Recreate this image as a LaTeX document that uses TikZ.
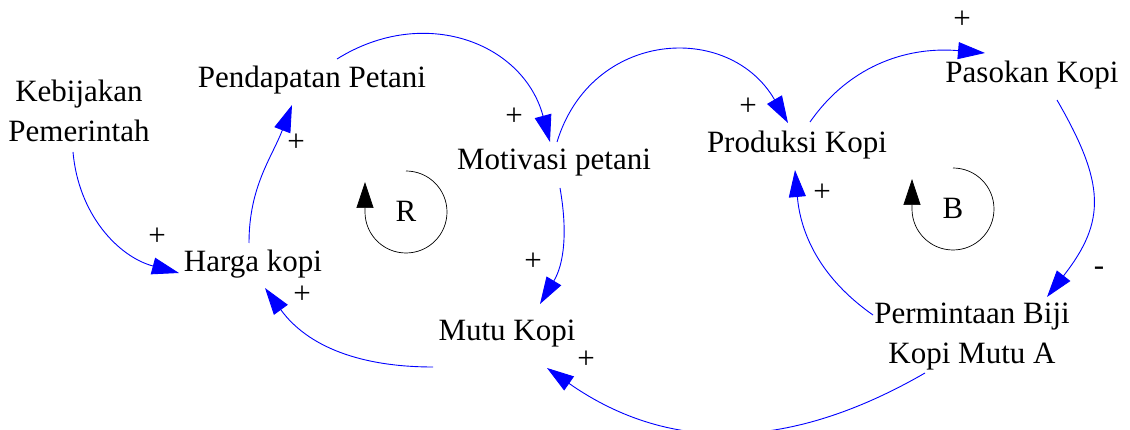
\documentclass[tikz,border=0pt]{standalone}
\usepackage{fontspec}
\setmainfont{Liberation Serif}
\usetikzlibrary{arrows.meta}

\begin{document}
\begin{tikzpicture}[x=1pt, y=1pt,
      font=\fontsize{31}{40}\selectfont,
      variabel/.style={inner sep=1pt, align=center},
      tanda/.style={inner sep=0pt},
      panah/.style={-{Triangle[length=27pt,width=17pt]}, blue, line width=0.9pt},
      putar/.style={-{Triangle[length=26pt,width=17pt]}, black, line width=0.7pt}]
    \clip (0,0) rectangle (1130,-430);
    % variabel
    \node[variabel] (kb) at (79,-111) {Kebijakan\\Pemerintah};
    \node[variabel] (pp) at (312,-80) {Pendapatan Petani};
    \node[variabel] (hk) at (253,-264) {Harga kopi};
    \node[variabel] (mp) at (554,-163) {Motivasi petani};
    \node[variabel] (mk) at (507,-334) {Mutu Kopi};
    \node[variabel] (pk) at (797,-145) {Produksi Kopi};
    \node[variabel] (ps) at (1032,-75) {Pasokan Kopi};
    \node[variabel] (pb) at (972,-337) {Permintaan Biji\\Kopi Mutu A};
    % loop
    \node[tanda] (lr) at (406,-211) {R};
    \node[tanda] (lb) at (953,-208) {B};
    \draw[putar] ([yshift=40pt]lr.center) arc[start angle=90,end angle=-180,radius=41] -- ++(0,30);
    \draw[putar] ([yshift=40pt]lb.center) arc[start angle=90,end angle=-180,radius=41] -- ++(0,30);
    % panah
    \draw[panah] ([shift={(-6,-41)}]kb.center) to[out=-85,in=165] ([shift={(-74,-9)}]hk.center);
    \draw[panah] ([shift={(-4,21)}]hk.center) to[out=90,in=-111] ([shift={(-20,-25)}]pp.center);
    \draw[panah] ([shift={(25,21)}]pp.center) to[out=32,in=105,looseness=1.15] ([shift={(-4,21)}]mp.center);
    \draw[panah] ([shift={(6,-25)}]mp.center) to[out=-80,in=59] ([shift={(33,30)}]mk.center);
    \draw[panah] ([shift={(-74,-33)}]mk.center) to[out=180,in=-54] ([shift={(12,-24)}]hk.center);
    \draw[panah] ([shift={(3,21)}]mp.center) to[out=73,in=120,looseness=1.3] ([shift={(-9,22)}]pk.center);
    \draw[panah] ([shift={(13,23)}]pk.center) to[out=55,in=175] ([shift={(-47,22)}]ps.center);
    \draw[panah] ([shift={(25,-25)}]ps.center) to[out=-60,in=52,looseness=1.25] ([shift={(75,40)}]pb.center);
    \draw[panah] ([shift={(-99,22)}]pb.center) to[out=145,in=-85] ([shift={(-2,-25)}]pk.center);
    \draw[panah] ([shift={(-47,-36)}]pb.center) to[out=-150,in=-35,looseness=1.03] ([shift={(40,-34)}]mk.center);
    % polaritas
    \node[tanda] (s1) at (157,-237) {+};
    \node[tanda] (s2) at (296,-143) {+};
    \node[tanda] (s3) at (514,-117) {+};
    \node[tanda] (s4) at (533,-262) {+};
    \node[tanda] (s5) at (302,-295) {+};
    \node[tanda] (s6) at (748,-107) {+};
    \node[tanda] (s7) at (962,-20) {+};
    \node[tanda] (s8) at (1099,-271) {-};
    \node[tanda] (s9) at (822,-193) {+};
    \node[tanda] (s10) at (586,-360) {+};
  \end{tikzpicture}
\end{document}
